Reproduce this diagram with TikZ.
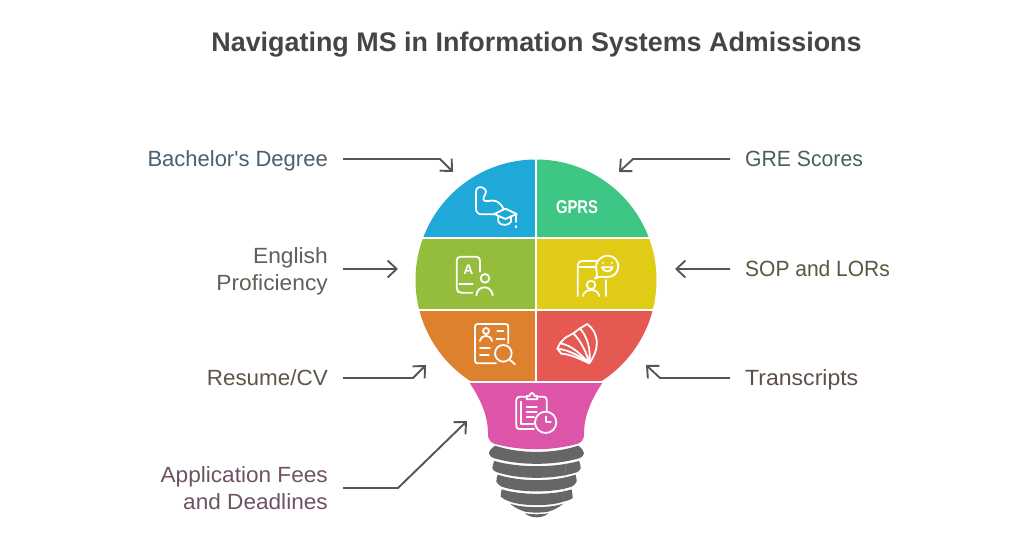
\documentclass[tikz,border=0pt]{standalone}
\usepackage{fontspec}
\setmainfont{Liberation Sans}
\usetikzlibrary{arrows.meta}
\definecolor{cblue}{HTML}{1FA9D9}
\definecolor{cgreen}{HTML}{3EC684}
\definecolor{colive}{HTML}{93BD3A}
\definecolor{cyellow}{HTML}{E0CC17}
\definecolor{corange}{HTML}{DE812F}
\definecolor{cred}{HTML}{E65852}
\definecolor{cpink}{HTML}{DC55A8}
\definecolor{cdark}{HTML}{666666}
\definecolor{carrow}{HTML}{555555}
\definecolor{tbach}{HTML}{4A6070}
\definecolor{teng}{HTML}{5E6158}
\definecolor{tres}{HTML}{5E5648}
\definecolor{tapp}{HTML}{6E5365}
\definecolor{tgre}{HTML}{4A6055}
\definecolor{tsop}{HTML}{57583F}
\definecolor{ttra}{HTML}{5E4F4A}
\newcommand{\sx}[2]{\scalebox{#1}[1]{#2}}
\tikzset{
  lbl/.style={font=\fontsize{22}{27}\selectfont,inner sep=0pt,text depth=5pt},
  one/.style={text height=20pt},
  two/.style={text height=47pt},
  lleft/.style={lbl,anchor=east,align=right},
  lright/.style={lbl,anchor=west,align=left},
  conn/.style={draw=carrow,line width=1.9pt,-{Straight Barb[length=9pt,width=17pt,line width=1.9pt]},line join=round},
  ico/.style={draw=white,line width=1.8pt,line cap=round,line join=round},
  topgrid/.style={shift={(400,150)},x=0.3333pt,y=-0.3333pt},
  botgrid/.style={shift={(400,300)},x=0.3333pt,y=-0.3333pt},
  sep/.style={draw=white,line width=2pt},
  thread/.style={fill=cdark,draw=none}
}
\begin{document}
\begin{tikzpicture}[x=1pt,y=-1pt]
\useasboundingbox (0,0) rectangle (1024,536);
\fill[white] (0,0) rectangle (1024,536);

\node[font=\fontsize{26.9}{30}\bfseries\selectfont,text=black!73,inner sep=0pt] (title) at (536.5,45) {Navigating MS in Information Systems Admissions};

% bulb cells
\begin{scope}
\clip (536,280) circle[radius=120.5];
\fill[cblue] (410,155) rectangle (536,238);
\fill[cgreen] (536,155) rectangle (660,238);
\fill[colive] (410,238) rectangle (536,310);
\fill[cyellow] (536,238) rectangle (660,310);
\fill[corange] (410,310) rectangle (536,382);
\fill[cred] (536,310) rectangle (660,382);
\end{scope}
\fill[cpink] (469,382) -- (603,382) .. controls (592,398) and (584,415) .. (584,434)
  .. controls (584,441) and (580,443) .. (577,444) .. controls (550,451) and (522,451) .. (495,444)
  .. controls (492,443) and (488,441) .. (488,434) .. controls (488,415) and (480,398) .. (469,382) -- cycle;
\draw[sep] (536,158) -- (536,382);
\draw[sep] (418,238) -- (654,238);
\draw[sep] (414,310) -- (658,310);
\draw[sep] (464,382) -- (608,382);

% screw threads
\begin{scope}[botgrid]
\fill[thread] (285,437) .. controls (360,462) and (460,462) .. (535,437) .. controls (545,445) and (552,452) .. (552,460) .. controls (552,468) and (545,472) .. (537,475) .. controls (460,497) and (360,497) .. (283,475) .. controls (275,472) and (267,468) .. (267,460) .. controls (267,452) and (275,445) .. (285,437) -- cycle;
\fill[thread] (283,483) .. controls (360,504) and (460,504) .. (537,483) .. controls (541,490) and (542,498) .. (542,505) .. controls (540,511) and (535,515) .. (530,517) .. controls (460,539) and (360,539) .. (292,517) .. controls (285,515) and (279,511) .. (277,505) .. controls (278,498) and (279,490) .. (283,483) -- cycle;
\fill[thread] (293,524) .. controls (360,546) and (460,546) .. (527,524) .. controls (529,531) and (530,538) .. (530,545) .. controls (528,551) and (522,556) .. (515,560) .. controls (460,579) and (360,579) .. (305,560) .. controls (298,556) and (291,551) .. (289,545) .. controls (289,538) and (291,531) .. (293,524) -- cycle;
\fill[thread] (305,568) .. controls (360,586) and (460,586) .. (515,568) .. controls (517,577) and (518,586) .. (518,595) .. controls (510,600) and (500,603) .. (490,605) .. controls (450,619) and (370,619) .. (330,605) .. controls (320,602) and (310,597) .. (302,590) .. controls (302,583) and (303,575) .. (305,568) -- cycle;
\fill[thread] (330,611) .. controls (370,625) and (450,625) .. (490,611) .. controls (477,622) and (462,630) .. (445,635) .. controls (420,639) and (400,639) .. (375,635) .. controls (358,630) and (343,622) .. (330,611) -- cycle;
\fill[thread] (375,640) .. controls (398,644) and (422,644) .. (445,640) .. controls (438,647) and (425,652) .. (410,652) .. controls (395,652) and (382,647) .. (375,640) -- cycle;
\draw[black!50,line width=.5pt] (497,492) -- (495,535) (493,560) -- (491,600);
\end{scope}

% icon: arm and cap
\begin{scope}[topgrid]
\draw[ico] (285,193) -- (245,193) .. controls (233,193) and (228,185) .. (228,175) -- (228,125) .. controls (228,112) and (240,108) .. (250,114) .. controls (262,120) and (258,130) .. (252,140) .. controls (246,150) and (255,156) .. (265,153) .. controls (285,148) and (300,155) .. (310,176);
\draw[ico] (283,192) -- (316,176) -- (350,192) -- (316,207) -- cycle;
\draw[ico] (295,199) -- (295,215) .. controls (300,228) and (328,228) .. (333,215) -- (333,199);
\draw[ico] (347,195) -- (347,216) (347,228) -- (347,232);
\node[text=white,font=\fontsize{18.5}{20}\bfseries\selectfont,inner sep=0pt] (gprs) at (531,172) {\sx{.8}{GPRS}};
% icon: book and person
\draw[ico] (240,365) -- (240,332) .. controls (240,325) and (236,320) .. (228,320) -- (182,320) .. controls (174,320) and (170,325) .. (170,332) -- (170,415) .. controls (170,424) and (176,428) .. (184,428) -- (217,428);
\draw[ico] (178,402) -- (218,402);
\node[text=white,font=\fontsize{14}{16}\bfseries\selectfont,inner sep=0pt] (bookA) at (205,358) {A};
\draw[ico] (255,385) circle[radius=13];
\draw[ico] (229,436) .. controls (232,404) and (275,404) .. (278,436);
% icon: phone, person and speech bubble
\draw[ico] (533,438) -- (533,347) .. controls (533,338) and (538,333) .. (546,333) -- (590,333);
\draw[ico] (536,352) -- (584,352) (618,390) -- (618,438);
\draw[ico] (590,366) .. controls (580,330) and (610,316) .. (625,317) .. controls (645,318) and (655,335) .. (655,349) .. controls (655,368) and (640,382) .. (622,381) .. controls (610,381) and (600,378) .. (585,386) .. controls (590,380) and (594,375) .. (590,366) -- cycle;
\draw[ico] (609,338) -- (609,339) (636,338) -- (636,339);
\draw[ico] (606,352) .. controls (610,368) and (634,368) .. (638,352) -- cycle;
\draw[ico] (573,405) circle[radius=13];
\draw[ico] (549,438) .. controls (552,414) and (594,414) .. (598,438);
\end{scope}

\begin{scope}[botgrid]
% icon: resume and magnifier
\draw[ico] (325,130) -- (325,80) .. controls (325,75) and (322,72) .. (317,72) -- (233,72) .. controls (228,72) and (225,75) .. (225,80) -- (225,182) .. controls (225,187) and (228,190) .. (233,190) -- (288,190);
\draw[ico] (258,93) circle[radius=9];
\draw[ico] (240,123) .. controls (244,102) and (272,102) .. (276,123);
\draw[ico] (292,94) -- (310,94) (290,118) -- (314,118);
\draw[ico] (240,145) -- (270,145) (240,165) -- (266,165);
\draw[ico] (310,160) circle[radius=25];
\draw[ico] (328,178) -- (345,193);
% icon: open book
\draw[ico] (568,190) .. controls (600,145) and (598,100) .. (562,72) -- (540,85);
\draw[ico] (568,190) .. controls (572,150) and (565,115) .. (540,85) -- (520,100);
\draw[ico] (568,190) .. controls (560,160) and (545,125) .. (520,100) -- (496,113) -- (480,130);
\draw[ico] (568,190) .. controls (545,165) and (515,135) .. (480,130) -- (472,146);
\draw[ico] (568,190) .. controls (545,172) and (510,150) .. (472,146) -- (484,161);
\draw[ico] (568,190) .. controls (545,180) and (515,163) .. (484,161);
% icon: clipboard and clock
\draw[ico] (380,290) -- (360,290) .. controls (353,290) and (349,294) .. (349,300) -- (349,378) .. controls (349,384) and (352,387) .. (358,387) -- (402,387);
\draw[ico] (410,290) -- (430,290) .. controls (437,290) and (440,294) .. (440,300) -- (440,335);
\draw[ico] (380,298) -- (380,288) -- (388,288) .. controls (392,276) and (400,276) .. (404,288) -- (412,288) -- (412,298) -- cycle;
\draw[ico] (362,305) -- (362,372) -- (402,372);
\draw[ico] (380,320) -- (410,320) (380,336) -- (410,336) (380,351) -- (402,351);
\draw[ico] (437,367) circle[radius=32];
\draw[ico] (437,350) -- (437,367) -- (452,367);
\end{scope}

% labels
\node[lleft,one,text=tbach] (bach) at (328,159) {Bachelor\textquotesingle s Degree};
\node[lleft,two,text=teng] (eng) at (328,269) {\sx{1.035}{English}\\\sx{1.035}{Proficiency}};
\node[lleft,one,text=tres] (res) at (328,378) {\sx{1.02}{Resume/CV}};
\node[lleft,two,text=tapp] (app) at (328,488) {\sx{1.028}{Application Fees}\\\sx{1.028}{and Deadlines}};
\node[lright,one,text=tgre] (gre) at (745,159) {\sx{.963}{GRE Scores}};
\node[lright,one,text=tsop] (sop) at (745,269) {\sx{.954}{SOP and LORs}};
\node[lright,one,text=ttra] (tra) at (745,378) {\sx{1.047}{Transcripts}};

% arrow end points
\coordinate (eBach) at (453,172);
\coordinate (bBach) at (440,159);
\coordinate (eGre) at (619,172);
\coordinate (bGre) at (633,159);
\coordinate (eEng) at (398,269);
\coordinate (eSop) at (675,269);
\coordinate (bRes) at (413,378);
\coordinate (eRes) at (426,365);
\coordinate (bTra) at (660,378);
\coordinate (eTra) at (646,365);
\coordinate (bApp) at (398,488);
\coordinate (eApp) at (467,421);

\draw[conn] ([xshift=15pt]bach.east) -- (bBach) -- (eBach);
\draw[conn] ([xshift=15pt]eng.east) -- (eEng);
\draw[conn] ([xshift=15pt]res.east) -- (bRes) -- (eRes);
\draw[conn] ([xshift=15pt]app.east) -- (bApp) -- (eApp);
\draw[conn] ([xshift=-15pt]gre.west) -- (bGre) -- (eGre);
\draw[conn] ([xshift=-15pt]sop.west) -- (eSop);
\draw[conn] ([xshift=-15pt]tra.west) -- (bTra) -- (eTra);
\end{tikzpicture}
\end{document}
